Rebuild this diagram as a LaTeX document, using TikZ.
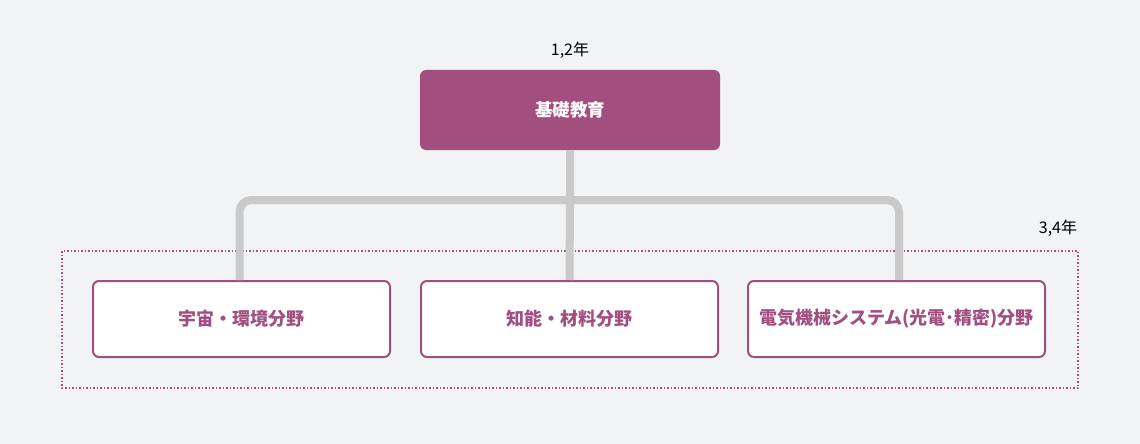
\documentclass[tikz,border=0pt]{standalone}
\usepackage{fontspec}
\setmainfont{Noto Sans CJK JP}
\definecolor{bg}{HTML}{F2F3F5}
\definecolor{plum}{HTML}{A24F7F}
\definecolor{conngray}{HTML}{C8C9C8}
\begin{document}
\begin{tikzpicture}[x=1pt,y=-1pt,
  topbox/.style={fill=plum,rounded corners=6pt,minimum width=300pt,minimum height=80pt,inner sep=0pt,
    text=white,font=\fontsize{17.5}{20}\selectfont\bfseries},
  fieldbox/.style={draw=plum,line width=2pt,fill=white,rounded corners=6pt,minimum width=297pt,minimum height=76pt,inner sep=0pt,
    text=plum,font=\fontsize{18}{20}\selectfont\bfseries},
  yearlabel/.style={inner sep=0pt,text=black,font=\fontsize{16}{18}\selectfont},
  conn/.style={draw=conngray,line width=8pt,rounded corners=12pt},
  group/.style={draw=plum,dotted,line width=1.5pt}]
\fill[bg] (0,0) rectangle (1140,444);
\useasboundingbox (0,0) rectangle (1140,444);
% group frame
\draw[group] (62,251) rectangle (1078,388);
% nodes
\node[yearlabel] (y12) at (570,50) {1,2年};
\node[yearlabel] (y34) at (1058,228) {3,4年};
\node[topbox] (top) at (570,110) {基礎教育};
\node[fieldbox] (f1) at (241.5,319) {宇宙・環境分野};
\node[fieldbox] (f2) at (569.5,319) {知能・材料分野};
\node[fieldbox] (f3) at (896.5,319) {電気機械システム(光電･精密)分野};
\coordinate (j) at (570,200);
% connectors
\draw[conn] ([xshift=-2pt]f1.north) |- (j) -| ([xshift=2.5pt]f3.north);
\draw[conn] (top.south) -- (j) -- (f2.north);
\end{tikzpicture}
\end{document}
